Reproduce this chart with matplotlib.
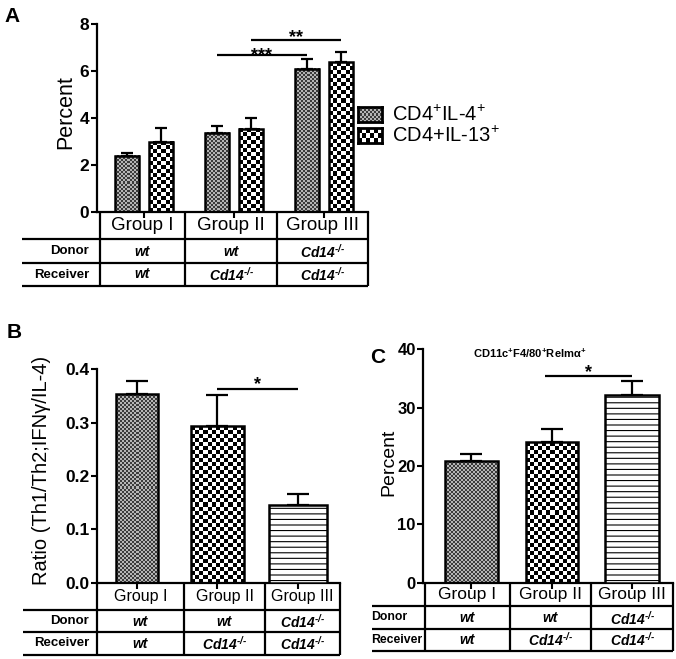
import numpy as np
import matplotlib
matplotlib.use("Agg")
from matplotlib import pyplot as plt
from matplotlib.colors import ListedColormap
from matplotlib.lines import Line2D

plt.rcParams["font.family"] = ["Liberation Sans", "DejaVu Sans"]
plt.rcParams["hatch.linewidth"] = 0.8

# data
groups = ["Group I", "Group II", "Group III"]
KO = "Cd14$^{\\mathdefault{\u2010/\u2010}}$"
donor = ["wt", "wt", KO]
receiver = ["wt", KO, KO]

a_il4 = [2.40, 3.38, 6.09]
a_il4_err = [0.10, 0.29, 0.42]
a_il13 = [3.00, 3.53, 6.37]
a_il13_err = [0.57, 0.46, 0.43]

b_ratio = [0.354, 0.294, 0.146]
b_ratio_err = [0.025, 0.058, 0.020]

c_pct = [20.9, 24.1, 32.2]
c_pct_err = [1.1, 2.2, 2.4]

W, H = 676, 659
fig = plt.figure(figsize=(W / 100, H / 100), dpi=100)


def fx(x):
    return x / W


def fy(y):
    return 1 - y / H


def add_ax(left, right, top, bottom):
    return fig.add_axes([fx(left), fy(bottom), (right - left) / W, (bottom - top) / H])


def hline(x0, x1, y, lw=1.6):
    fig.add_artist(Line2D([fx(x0), fx(x1)], [fy(y), fy(y)], color="k", lw=lw,
                          transform=fig.transFigure, solid_capstyle="butt"))


def vline(x, y0, y1, lw=1.6):
    fig.add_artist(Line2D([fx(x), fx(x)], [fy(y0), fy(y1)], color="k", lw=lw,
                          transform=fig.transFigure, solid_capstyle="butt"))


def checker(ax, bar, cell, c1, c2):
    x0, y0 = bar.get_x(), bar.get_y()
    x1, y1 = x0 + bar.get_width(), y0 + bar.get_height()
    p0 = ax.transData.transform((x0, y0))
    p1 = ax.transData.transform((x1, y1))
    nx = max(1, int(round((p1[0] - p0[0]) / cell)))
    ny = max(1, int(round((p1[1] - p0[1]) / cell)))
    arr = np.add.outer(np.arange(ny), np.arange(nx)) % 2
    ax.imshow(arr, cmap=ListedColormap([c1, c2]), extent=(x0, x1, y0, y1),
              origin="lower", interpolation="nearest", aspect="auto", zorder=1)


def style_axis(ax, xlim, ylim, yticks, ticklabels, tsize):
    ax.set_xlim(*xlim)
    ax.set_ylim(*ylim)
    ax.set_yticks(yticks)
    ax.set_yticklabels(ticklabels, fontweight="bold", fontsize=tsize)
    ax.set_xticks([0, 1, 2])
    ax.set_xticklabels([])
    for s in ["top", "right"]:
        ax.spines[s].set_visible(False)
    ax.spines["left"].set_linewidth(1.6)
    ax.spines["bottom"].set_linewidth(1.6)
    ax.tick_params(axis="y", length=4, width=1.5, pad=1.5)
    ax.tick_params(axis="x", length=4, width=1.5)
    ax.set_facecolor("none")


def table(cols, rows, left, label_x, label_ha, gsize, lsize):
    for c in cols:
        vline(c, rows[0], rows[3])
    for r in rows[1:]:
        hline(left, cols[-1], r)
    centers = [(cols[i] + cols[i + 1]) / 2 for i in range(3)]
    for i in range(3):
        fig.text(fx(centers[i]), fy((rows[0] + rows[1]) / 2), groups[i],
                 ha="center", va="center", fontsize=gsize)
        fig.text(fx(centers[i]), fy((rows[1] + rows[2]) / 2 + 1), donor[i],
                 ha="center", va="center", fontsize=10, fontweight="bold", fontstyle="italic")
        fig.text(fx(centers[i]), fy((rows[2] + rows[3]) / 2), receiver[i],
                 ha="center", va="center", fontsize=10, fontweight="bold", fontstyle="italic")
    fig.text(fx(label_x), fy((rows[1] + rows[2]) / 2), "Donor", ha=label_ha,
             va="center", fontsize=lsize, fontweight="bold")
    fig.text(fx(label_x), fy((rows[2] + rows[3]) / 2), "Receiver", ha=label_ha,
             va="center", fontsize=lsize, fontweight="bold")


def sig(ax, x0, x1, y, stars, below_px):
    ax.plot([x0, x1], [y, y], color="k", lw=1.6, solid_capstyle="butt", clip_on=False)
    ax.annotate(stars, ((x0 + x1) / 2, y), xytext=(0, -below_px * 0.72),
                textcoords="offset points", ha="center", va="baseline",
                fontsize=13, fontweight="bold", annotation_clip=False)


FINE = ("#3a3a3a", "#b4b4b4")
COARSE = ("#000000", "#ffffff")

# ---------------- panel A ----------------
axA = add_ax(97, 368, 24, 212.3)
xA = np.arange(3)
bw, off = 0.27, 0.19
style_axis(axA, (-0.522, 2.489), (0, 8), [0, 2, 4, 6, 8], ["0", "2", "4", "6", "8"], 12.5)
barsA1 = axA.bar(xA - off, a_il4, bw, facecolor="none", edgecolor="k", lw=1.8, zorder=3)
barsA2 = axA.bar(xA + off, a_il13, bw, facecolor="none", edgecolor="k", lw=1.8, zorder=3)
for b in barsA1:
    checker(axA, b, 2, *FINE)
for b in barsA2:
    checker(axA, b, 4, *COARSE)
axA.errorbar(xA - off, a_il4, yerr=[np.zeros(3), a_il4_err], fmt="none", ecolor="k",
             elinewidth=1.6, capsize=4, capthick=1.6, zorder=2)
axA.errorbar(xA + off, a_il13, yerr=[np.zeros(3), a_il13_err], fmt="none", ecolor="k",
             elinewidth=1.6, capsize=4, capthick=1.6, zorder=2)
axA.set_xlim(-0.522, 2.489)
axA.set_ylim(0, 8)
sig(axA, 1 - off, 2 - off, 6.68, "***", 5)
sig(axA, 1 + off, 2 + off, 7.32, "**", 2)
fig.text(fx(66), fy(112), "Percent", rotation=90, ha="center", va="center", fontsize=15.5)
table([100, 185, 277, 368], [212.3, 239, 263, 286], 22, 89, "right", 13.5, 9.5)
fig.text(fx(4), fy(17), "A", fontsize=15, fontweight="bold", va="center")

# legend for A
legend_items = [("CD4$^{\\mathdefault{+}}$IL-4$^{\\mathdefault{+}}$", 2, FINE, 107),
                ("CD4+IL-13$^{\\mathdefault{+}}$", 4, COARSE, 128)]
for label, cell, cols, top in legend_items:
    sw = add_ax(358, 382, top, top + 15)
    n = 24 // cell
    m = 15 // cell
    sw.imshow(np.add.outer(np.arange(m), np.arange(n)) % 2, cmap=ListedColormap(list(cols)),
              interpolation="nearest", aspect="auto")
    sw.set_xticks([])
    sw.set_yticks([])
    for s in sw.spines.values():
        s.set_linewidth(2)
    fig.text(fx(392), fy(top + 8), label, ha="left", va="center", fontsize=14.5)

# ---------------- panel B ----------------
axB = add_ax(97, 340, 369.3, 582.7)
xB = np.arange(3)
style_axis(axB, (-0.497, 2.522), (0, 0.4), [0, 0.1, 0.2, 0.3, 0.4],
           ["0.0", "0.1", "0.2", "0.3", "0.4"], 12.5)
barsB = axB.bar(xB, b_ratio, [0.53, 0.67, 0.72], facecolor="none", edgecolor="k",
                lw=1.8, zorder=3)
checker(axB, barsB[0], 2, *FINE)
checker(axB, barsB[1], 4, *COARSE)
barsB[2].set_facecolor("white")
barsB[2].set_hatch("---")
axB.errorbar(xB, b_ratio, yerr=[np.zeros(3), b_ratio_err], fmt="none", ecolor="k",
             elinewidth=1.6, capsize=8, capthick=1.6, zorder=2)
axB.set_xlim(-0.497, 2.522)
axB.set_ylim(0, 0.4)
sig(axB, 1, 2, 0.364, "*", 1)
fig.text(fx(42), fy(470), "Ratio (Th1/Th2;IFN\u03b3/IL-4)", rotation=90, ha="center",
         va="center", fontsize=14.5)
table([97, 184, 265, 340], [582.7, 610, 632, 655], 23, 89, "right", 11.5, 9.5)
fig.text(fx(7), fy(333), "B", fontsize=15, fontweight="bold", va="center")

# ---------------- panel C ----------------
axC = add_ax(423.3, 673, 349.3, 582.7)
xC = np.arange(3)
style_axis(axC, (-0.6, 2.509), (0, 40), [0, 10, 20, 30, 40],
           ["0", "10", "20", "30", "40"], 12)
barsC = axC.bar(xC, c_pct, [0.66, 0.65, 0.67], facecolor="none", edgecolor="k",
                lw=1.8, zorder=3)
checker(axC, barsC[0], 2, *FINE)
checker(axC, barsC[1], 4, *COARSE)
barsC[2].set_facecolor("white")
barsC[2].set_hatch("---")
axC.errorbar(xC, c_pct, yerr=[np.zeros(3), c_pct_err], fmt="none", ecolor="k",
             elinewidth=1.6, capsize=8, capthick=1.6, zorder=2)
axC.set_xlim(-0.6, 2.509)
axC.set_ylim(0, 40)
sig(axC, 0.91, 2.0, 35.4, "*", 1)
fig.text(fx(389), fy(462), "Percent", rotation=90, ha="center", va="center", fontsize=14)
fig.text(fx(530), fy(353),
         "CD11c$^{\\mathdefault{+}}$F4/80$^{\\mathdefault{+}}$Relm\u03b1$^{\\mathdefault{+}}$",
         ha="center", va="center", fontsize=8, fontweight="bold")
table([425, 510, 591, 673], [582.7, 606, 629, 651], 372, 371, "left", 12.5, 8.8)
fig.text(fx(370), fy(358), "C", fontsize=15, fontweight="bold", va="center")

fig.savefig("out.png", dpi=100)
